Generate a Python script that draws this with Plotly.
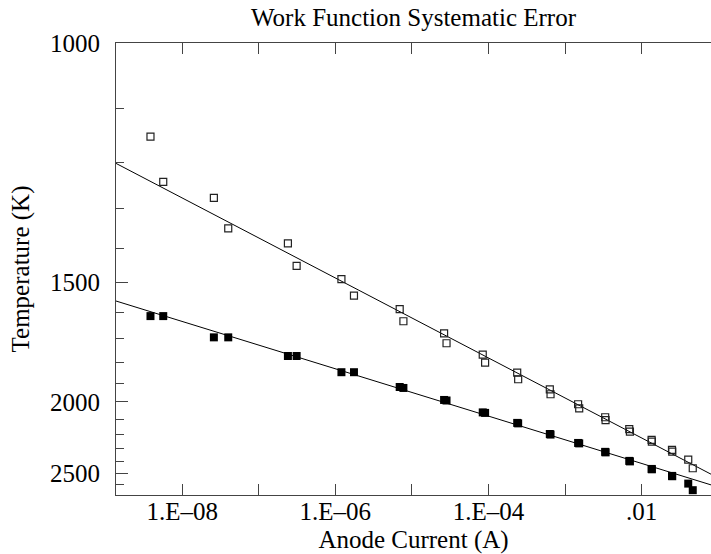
import numpy as np
import plotly.graph_objects as go

# Anode current (A) for each measurement
current = [3.85e-9, 5.65e-9, 2.59e-8, 3.99e-8, 2.40e-7, 3.12e-7, 1.20e-6, 1.75e-6,
           6.92e-6, 7.74e-6, 2.63e-5, 2.83e-5, 8.41e-5, 9.03e-5, 2.37e-4, 2.44e-4,
           6.32e-4, 6.46e-4, 1.48e-3, 1.53e-3, 3.34e-3, 3.38e-3, 6.89e-3, 7.03e-3,
           1.35e-2, 1.36e-2, 2.49e-2, 2.51e-2, 4.06e-2, 4.65e-2]

# Temperature (K), open squares
temp_open = [1150, 1240, 1275, 1348, 1387, 1450, 1490, 1543, 1589, 1633,
             1679, 1719, 1767, 1803, 1849, 1881, 1932, 1958, 2013, 2036,
             2089, 2107, 2164, 2180, 2237, 2249, 2308, 2321, 2383, 2453]

# Temperature (K), filled squares
temp_filled = [1614, 1614, 1695, 1695, 1773, 1773, 1847, 1847, 1920, 1925,
               1989, 1992, 2060, 2063, 2124, 2127, 2196, 2200, 2258, 2261,
               2323, 2327, 2393, 2397, 2459, 2462, 2519, 2522, 2589, 2652]

# Straight-line fits (in 1/T vs log I), end points
fit_current = [1.365e-9, 8.05e-2]
fit_open_temp = [1201.5, 2504]
fit_filled_temp = [1561, 2601]

# Axis ticks
x_tickvals = [1e-8, 1e-7, 1e-6, 1e-5, 1e-4, 1e-3, 1e-2]
x_ticktext = ["1.E\u201308", "", "1.E\u201306", "", "1.E\u201304", "", ".01"]
y_major = [1000, 1500, 2000, 2500]
y_minor = [1100, 1200, 1300, 1400, 1600, 1700, 1800, 1900,
           2100, 2200, 2300, 2400, 2600, 2700]
y_limits = [2700, 1000]

inv = lambda t: (1.0 / np.asarray(t, dtype=float)).tolist()

FONT = "Times New Roman"
AX = "#444444"
TXT = dict(family=FONT, size=25, color="#000000")

fig = go.Figure()

fig.add_trace(go.Scatter(
    x=fit_current, y=inv(fit_open_temp), mode="lines",
    line=dict(color="black", width=1), showlegend=False, hoverinfo="skip"))
fig.add_trace(go.Scatter(
    x=fit_current, y=inv(fit_filled_temp), mode="lines",
    line=dict(color="black", width=1), showlegend=False, hoverinfo="skip"))

fig.add_trace(go.Scatter(
    x=current, y=inv(temp_open), mode="markers",
    marker=dict(symbol="square-open", size=7, color="#222222",
                line=dict(width=1.2, color="#222222")),
    showlegend=False))
fig.add_trace(go.Scatter(
    x=current, y=inv(temp_filled), mode="markers",
    marker=dict(symbol="square", size=8, color="black",
                line=dict(width=0)),
    showlegend=False))

fig.update_layout(
    width=711, height=554,
    margin=dict(l=116, r=0, t=43, b=59, autoexpand=False),
    paper_bgcolor="white", plot_bgcolor="white",
    font=TXT,
    title=dict(text="Work Function Systematic Error", font=TXT,
               x=0.5, xref="paper", xanchor="center",
               y=1 - 17 / 554, yref="container", yanchor="middle"),
    xaxis=dict(
        type="log", automargin=False,
        range=[np.log10(fit_current[0]), np.log10(fit_current[1])],
        tickmode="array", tickvals=x_tickvals, ticktext=x_ticktext,
        ticks="inside", ticklen=11, tickwidth=1, tickcolor=AX,
        showline=True, linecolor=AX, linewidth=1, mirror="ticks",
        showgrid=False, zeroline=False,
        tickfont=TXT, ticklabelstandoff=-6,
        title=dict(text="Anode Current (A)", standoff=16, font=TXT),
    ),
    yaxis=dict(
        automargin=False,
        range=inv(y_limits),
        tickmode="array", tickvals=inv(y_major),
        ticktext=[str(t) for t in y_major],
        ticks="inside", ticklen=12, tickwidth=1, tickcolor=AX,
        minor=dict(tickmode="array", tickvals=inv(y_minor),
                   ticks="inside", ticklen=8, tickwidth=1, tickcolor=AX,
                   showgrid=False),
        showline=True, linecolor=AX, linewidth=1, mirror=False,
        showgrid=False, zeroline=False,
        tickfont=TXT, ticklabelstandoff=10,
        title=dict(text="Temperature (K)", standoff=13, font=TXT),
    ),
)

fig.write_html("out.html")
